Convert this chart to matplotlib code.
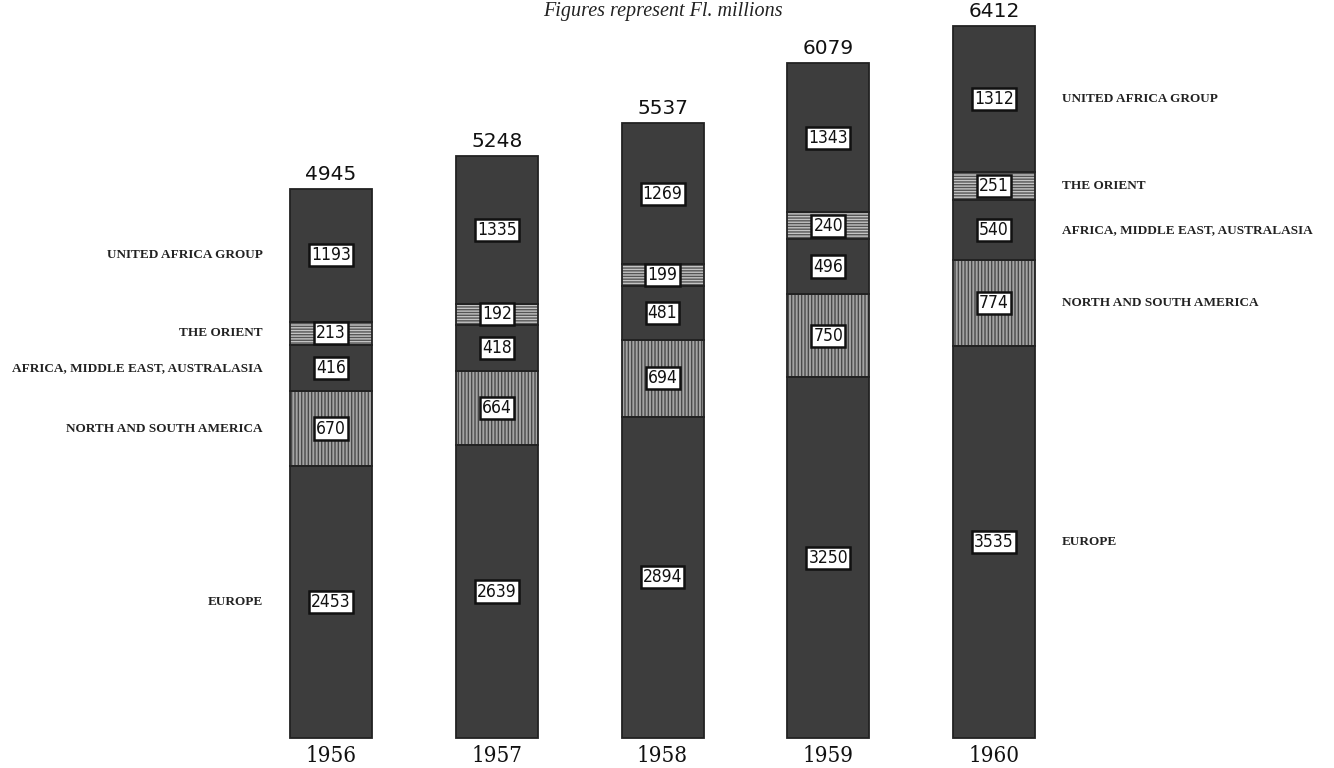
import numpy as np
import matplotlib
matplotlib.use("Agg")
import matplotlib.pyplot as plt
from matplotlib import font_manager as fm

# Fl. millions, stacked bottom -> top
years = ["1956", "1957", "1958", "1959", "1960"]
europe = [2453, 2639, 2894, 3250, 3535]
america = [670, 664, 694, 750, 774]
africa_me = [416, 418, 481, 496, 540]
orient = [213, 192, 199, 240, 251]
uac = [1193, 1335, 1269, 1343, 1312]

segment_names = ["EUROPE", "NORTH AND SOUTH AMERICA",
                 "AFRICA, MIDDLE EAST, AUSTRALASIA", "THE ORIENT",
                 "UNITED AFRICA GROUP"]
segments = [europe, america, africa_me, orient, uac]

# look of each band: face, hatch, hatch colour
styles = [
    ("#3d3d3d", None, "#3d3d3d"),
    ("#a4a4a4", "|||||", "#4a4a4a"),
    ("#3d3d3d", None, "#3d3d3d"),
    ("#c4c4c4", "------", "#555555"),
    ("#3d3d3d", None, "#3d3d3d"),
]

# narrow fonts if there are any
stretches = {(f.name, f.stretch) for f in fm.fontManager.ttflist}
if ("DejaVu Sans", "condensed") in stretches:
    num_kw = dict(family="DejaVu Sans", fontstretch="condensed")
else:
    num_kw = dict(family="DejaVu Sans")
if ("DejaVu Serif", "condensed") in stretches:
    year_kw = dict(family="DejaVu Serif", fontstretch="condensed", fontsize=16)
else:
    year_kw = dict(family="Liberation Serif", fontsize=16.5)

plt.rcParams["hatch.linewidth"] = 1.0

fig = plt.figure(figsize=(13.34, 7.68), dpi=100)
ax = fig.add_axes([0, 0, 1, 1])
x = np.arange(len(years))
w = 0.495

bottom = np.zeros(len(years))
centers = []
for vals, (fc, hatch, hc) in zip(segments, styles):
    vals = np.array(vals, dtype=float)
    plt.rcParams["hatch.color"] = hc
    ax.bar(x, vals, w, bottom=bottom, color=fc, edgecolor=hc,
           hatch=hatch, linewidth=0)
    centers.append(bottom + vals / 2)
    bottom = bottom + vals

# outline of segment boundaries
bottom = np.zeros(len(years))
for vals in segments:
    vals = np.array(vals, dtype=float)
    ax.bar(x, vals, w, bottom=bottom, fill=False, edgecolor="#222222",
           linewidth=1.3)
    bottom = bottom + vals
totals = bottom

box = dict(boxstyle="square,pad=0.12", facecolor="white",
           edgecolor="#111111", linewidth=1.8)
for vals, cy in zip(segments, centers):
    for i in range(len(years)):
        ax.text(x[i], cy[i], str(vals[i]), ha="center", va="center",
                fontsize=12.5, color="#111111", bbox=box, **num_kw)

for i in range(len(years)):
    ax.text(x[i], totals[i] + 45, str(int(totals[i])), ha="center",
            va="bottom", fontsize=14.5, family="DejaVu Sans", color="#111111")
    ax.text(x[i], -60, years[i], ha="center", va="top", color="#111111",
            **year_kw)

# category labels beside first and last bar
for name, cy in zip(segment_names, centers):
    ax.text(x[0] - 0.41, cy[0], name, ha="right", va="center",
            fontsize=9.5, family="Liberation Serif", fontweight="bold",
            color="#222222")
    ax.text(x[-1] + 0.41, cy[-1], name, ha="left", va="center",
            fontsize=9.5, family="Liberation Serif", fontweight="bold",
            color="#222222")

ax.text(2, 6545, "Figures represent Fl. millions", ha="center", va="center",
        fontsize=14.5, family="Liberation Serif", style="italic",
        color="#222222")

ax.set_xlim(-1.997, 6.051)
ax.set_ylim(-270, 6649)
ax.axis("off")

fig.savefig("out.png", dpi=100, facecolor="white")
